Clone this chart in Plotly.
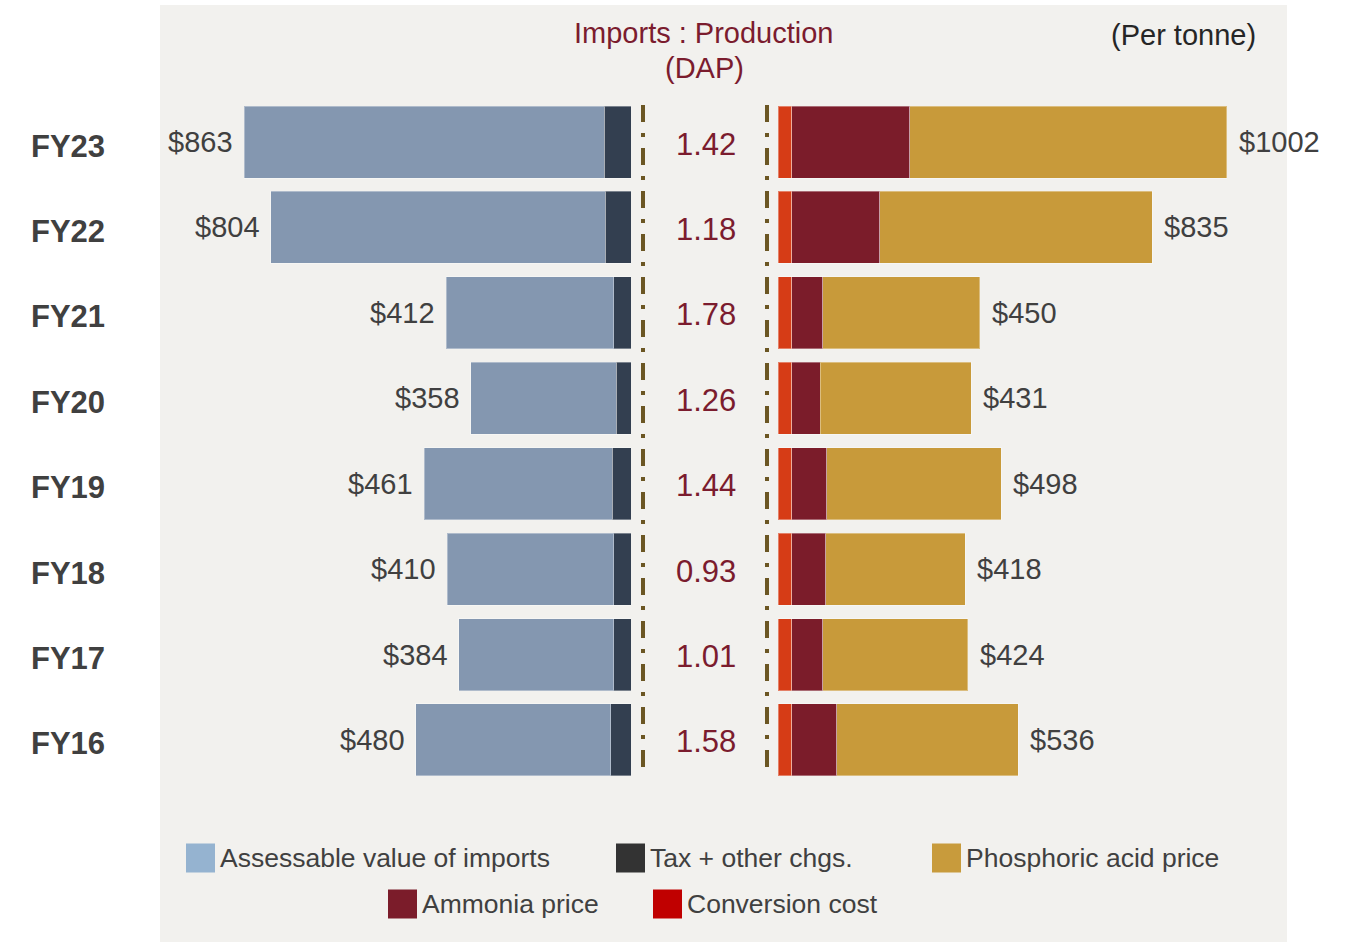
import plotly.graph_objects as go

# Cost build-up of DAP per tonne: imported vs domestically produced
years = ["FY23", "FY22", "FY21", "FY20", "FY19", "FY18", "FY17", "FY16"]

# Imports side
assessable = [803, 746, 374, 325, 419, 372, 346, 435]
tax_charges = [60, 58, 38, 33, 42, 38, 38, 45]

# Domestic production side
conversion = [31, 31, 31, 31, 31, 31, 31, 31]
ammonia = [263, 196, 69, 63, 78, 76, 69, 100]
phosphoric = [708, 608, 350, 337, 389, 311, 324, 405]

# Imports : Production ratio
ratio = ["1.42", "1.18", "1.78", "1.26", "1.44", "0.93", "1.01", "1.58"]

W, H = 1347, 942
FONT = "Arial, Liberation Sans, sans-serif"
TXT = "#404040"
MAROON = "#7b1c2e"


def px(x):
    return x / W


def py(y):
    return 1 - y / H


import_total = [a + t for a, t in zip(assessable, tax_charges)]
prod_total = [c + m + p for c, m, p in zip(conversion, ammonia, phosphoric)]

fig = go.Figure()
edge = dict(color="rgba(255,255,255,0.35)", width=1)

# Left panel: bars grow leftwards from the centre
fig.add_trace(go.Bar(y=years, x=tax_charges, orientation="h", name="Tax + other chgs.",
                     marker=dict(color="#333f50", line=edge), xaxis="x", yaxis="y"))
fig.add_trace(go.Bar(y=years, x=assessable, orientation="h", name="Assessable value of imports",
                     marker=dict(color="#8497b0", line=edge), xaxis="x", yaxis="y"))

# Right panel: bars grow rightwards from the centre
fig.add_trace(go.Bar(y=years, x=conversion, orientation="h", name="Conversion cost",
                     marker=dict(color="#d63c16", line=edge), xaxis="x2", yaxis="y"))
fig.add_trace(go.Bar(y=years, x=ammonia, orientation="h", name="Ammonia price",
                     marker=dict(color="#7b1c2a", line=edge), xaxis="x2", yaxis="y"))
fig.add_trace(go.Bar(y=years, x=phosphoric, orientation="h", name="Phosphoric acid price",
                     marker=dict(color="#c89a3a", line=edge), xaxis="x2", yaxis="y"))

annotations = []

# Total labels at bar ends
for yr, tot in zip(years, import_total):
    annotations.append(dict(x=tot, y=yr, xref="x", yref="y", text=f"${tot}",
                            xanchor="right", yanchor="middle", xshift=-9, showarrow=False,
                            font=dict(family=FONT, size=29, color=TXT)))
for yr, tot in zip(years, prod_total):
    annotations.append(dict(x=tot, y=yr, xref="x2", yref="y", text=f"${tot}",
                            xanchor="left", yanchor="middle", xshift=10, showarrow=False,
                            font=dict(family=FONT, size=29, color=TXT)))

# Ratio column and year labels
for yr, r in zip(years, ratio):
    annotations.append(dict(x=px(706), y=yr, xref="paper", yref="y", text=r,
                            xanchor="center", yanchor="middle", yshift=-2, showarrow=False,
                            font=dict(family=FONT, size=31, color=MAROON)))
    annotations.append(dict(x=px(29), y=yr, xref="paper", yref="y", text=f"<b>{yr}</b>",
                            xanchor="left", yanchor="middle", yshift=-4, showarrow=False,
                            font=dict(family=FONT, size=31, color=TXT)))

# Headers
annotations += [
    dict(x=px(704), y=py(33), xref="paper", yref="paper", text="Imports : Production",
         xanchor="center", yanchor="middle", showarrow=False,
         font=dict(family=FONT, size=29, color=MAROON)),
    dict(x=px(704), y=py(68), xref="paper", yref="paper", text="(DAP)",
         xanchor="center", yanchor="middle", showarrow=False,
         font=dict(family=FONT, size=29, color=MAROON)),
    dict(x=px(1183), y=py(35), xref="paper", yref="paper", text="(Per tonne)",
         xanchor="center", yanchor="middle", showarrow=False,
         font=dict(family=FONT, size=29, color="#262626")),
]

shapes = [
    # panel background
    dict(type="rect", xref="paper", yref="paper", x0=px(160), x1=px(1287), y0=0, y1=py(5),
         fillcolor="#f2f1ee", line=dict(width=0), layer="below"),
]

# Dash-dot separators around the ratio column
for xs in (643, 767):
    shapes.append(dict(type="line", xref="paper", yref="paper", x0=px(xs), x1=px(xs),
                       y0=py(105), y1=py(778),
                       line=dict(color="#6b5623", width=4, dash="17px,11px,4px,11px")))

# Legend built from swatches and labels
legend_items = [
    ("Assessable value of imports", "#95b3d0", 186, 858),
    ("Tax + other chgs.", "#333333", 616, 858),
    ("Phosphoric acid price", "#c89b3c", 932, 858),
    ("Ammonia price", "#7b1c2a", 388, 904),
    ("Conversion cost", "#c00000", 653, 904),
]
for label, col, x0, yc in legend_items:
    shapes.append(dict(type="rect", xref="paper", yref="paper",
                       x0=px(x0), x1=px(x0 + 29), y0=py(yc + 14.5), y1=py(yc - 14.5),
                       fillcolor=col, line=dict(width=0)))
    annotations.append(dict(x=px(x0 + 32), y=py(yc), xref="paper", yref="paper", text=label,
                            xanchor="left", yanchor="middle", showarrow=False,
                            font=dict(family=FONT, size=26.5, color=TXT)))

scale = 0.448  # pixels per dollar on both panels
fig.update_layout(
    width=W, height=H,
    margin=dict(l=0, r=0, t=0, b=0),
    paper_bgcolor="white",
    plot_bgcolor="rgba(0,0,0,0)",
    barmode="stack",
    bargap=0.157,
    showlegend=False,
    xaxis=dict(domain=[px(160), px(631)], range=[(631 - 160) / scale, 0],
               showgrid=False, zeroline=False, showticklabels=False, anchor="y"),
    xaxis2=dict(domain=[px(778), px(1287)], range=[0, (1287 - 778) / scale],
                showgrid=False, zeroline=False, showticklabels=False, anchor="y"),
    yaxis=dict(domain=[py(782.7), py(99.3)], type="category",
               categoryorder="array", categoryarray=years[::-1], range=[-0.5, 7.5],
               showgrid=False, zeroline=False, showticklabels=False),
    annotations=annotations,
    shapes=shapes,
)

fig.write_html("out.html")
